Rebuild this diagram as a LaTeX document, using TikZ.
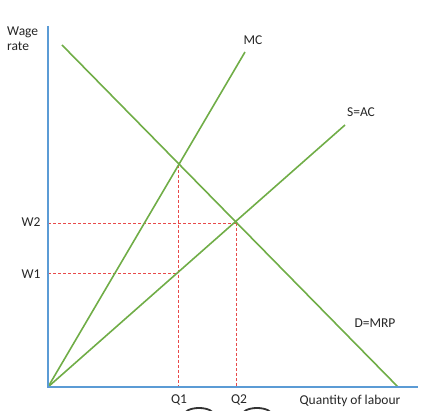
\documentclass[tikz,border=0pt]{standalone}
\usepackage{fontspec}
\setmainfont{Carlito}
\definecolor{cgreen}{HTML}{70AD47}
\definecolor{cblue}{HTML}{5B9BD5}
\definecolor{cred}{HTML}{E84A4A}
\begin{document}
\begin{tikzpicture}[x=1pt,y=-1pt,
  curve/.style={cgreen,line width=1.6pt},
  axis/.style={cblue,line width=1.6pt},
  guide/.style={cred,line width=0.9pt,dash pattern=on 3pt off 2pt},
  lbl/.style={font=\fontsize{13.5}{15}\selectfont,text=black!85,inner sep=0pt}]
\useasboundingbox (0,0) rectangle (448,411);
\clip (0,0) rectangle (448,411);
\coordinate (O) at (48,387);
\coordinate (Ytop) at (48,26);
\coordinate (Xend) at (418,387);
\coordinate (MCend) at (245,52);
\coordinate (Send) at (345,125);
\coordinate (Dstart) at (62,45);
\coordinate (Dend) at (398,387);
\coordinate (E1) at (178,165);
\coordinate (E2) at (236,223);
\coordinate (P1) at (178,273);
\coordinate (Q1b) at (178,387);
\coordinate (Q2b) at (236,387);
\coordinate (W2a) at (48,223);
\coordinate (W1a) at (48,273);
% guides
\draw[guide] (W2a) -- (E2);
\draw[guide] (W1a) -- (P1);
\draw[guide] (E1) -- (Q1b);
\draw[guide] (E2) -- (Q2b);
% curves
\draw[curve] (O) -- (MCend);
\draw[curve] (O) -- (Send);
\draw[curve] (Dstart) -- (Dend);
% axes
\draw[axis] (Ytop) -- (O) -- (Xend);
% labels
\node[lbl,align=left,anchor=north west] (wage) at (7,27) {Wage\\rate};
\node[lbl] (mc) at (253,40) {MC};
\node[lbl] (sac) at (361,112) {S=AC};
\node[lbl] (dmrp) at (375,323) {D=MRP};
\node[lbl] (w2) at (31,222) {W2};
\node[lbl] (w1) at (31,274) {W1};
\node[lbl] (q1) at (179,400) {Q1};
\node[lbl] (q2) at (239,400) {Q2};
\node[lbl] (ql) at (350,401) {Quantity of labour};
% cropped ellipse tops
\draw[black!80,line width=1.8pt] (199,415) ellipse (15 and 7);
\draw[black!80,line width=1.8pt] (257,415) ellipse (15 and 7);
\end{tikzpicture}
\end{document}
